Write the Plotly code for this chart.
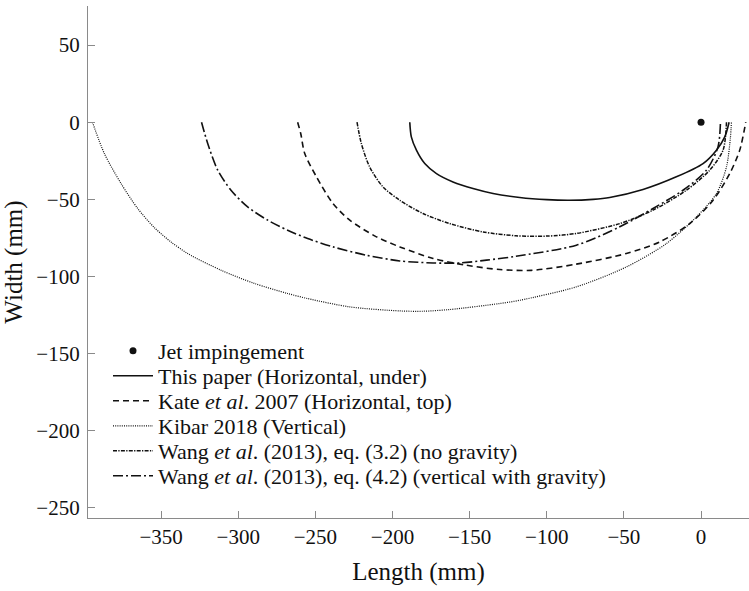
import plotly.graph_objects as go

# ---- data (mm) ----
jet_x = [0.0]
jet_y = [0.0]

paper_x = [-188.8, -187.8, -184.5, -179.1, -171.5, -160.8, -147.8, -134.8, -117.5, -100.0,
           -85.4, -70.0, -59.2, -37.6, -16.0, 1.3, 10.0, 15.4, 18.2]
paper_y = [0.0, -9.5, -18.1, -26.8, -33.3, -38.7, -43.0, -46.2, -48.8, -50.2,
           -50.6, -50.0, -48.8, -43.6, -35.4, -26.8, -18.1, -9.5, 0.0]

kate_x = [-261.5, -259.5, -256.9, -249.3, -238.6, -227.7, -210.4, -195.3, -173.7, -152.1,
          -130.5, -110.0, -80.8, -48.4, -26.8, -7.3, 7.8, 18.6, 25.1, 29.0]
kate_y = [0.0, -7.3, -20.3, -35.4, -52.7, -63.5, -74.3, -80.8, -88.3, -92.7,
          -95.5, -96.0, -92.0, -85.1, -77.6, -65.7, -50.6, -33.3, -18.1, 0.0]

kibar_x = [-394.5, -386.8, -376.0, -365.2, -354.4, -343.6, -332.8, -311.2, -289.5, -268.0,
           -255.0, -227.7, -195.3, -180.0, -162.9, -130.5, -117.5, -80.8, -48.4, -22.4,
           -3.0, 10.0, 16.5, 19.1, 19.7]
kibar_y = [0.0, -20.3, -39.7, -55.9, -68.3, -77.6, -85.1, -95.9, -104.5, -111.0,
           -114.3, -119.7, -122.3, -122.5, -121.4, -117.5, -115.4, -106.7, -93.8, -78.6,
           -61.4, -46.2, -29.0, -9.5, 0.0]

wang32_x = [-223.0, -220.2, -214.8, -206.2, -195.3, -180.2, -162.9, -141.3, -120.0, -100.0,
            -80.8, -52.7, -31.1, -9.5, 5.6, 14.3, 16.5]
wang32_y = [0.0, -13.8, -29.0, -41.9, -50.6, -59.2, -65.7, -71.1, -73.6, -73.8,
            -72.1, -65.7, -57.0, -44.1, -31.1, -18.1, 0.0]

wang42_x = [-323.8, -319.8, -313.3, -304.7, -293.9, -280.9, -268.0, -255.0, -238.6, -216.9,
            -195.3, -173.7, -156.2, -139.1, -120.0, -80.8, -52.7, -31.1, -11.7, 3.5,
            11.0, 12.6]
wang42_y = [0.0, -13.8, -31.1, -44.1, -54.9, -63.5, -70.0, -75.4, -80.8, -86.2,
            -89.9, -91.2, -91.2, -89.4, -86.9, -79.7, -67.8, -55.9, -44.1, -31.1,
            -16.0, 0.0]

names = [
    "Jet impingement",
    "This paper (Horizontal, under)",
    "Kate <i>et al</i>. 2007 (Horizontal, top)",
    "Kibar 2018 (Vertical)",
    "Wang <i>et al</i>. (2013), eq. (3.2) (no gravity)",
    "Wang <i>et al</i>. (2013), eq. (4.2) (vertical with gravity)",
]

x_ticks = [-350, -300, -250, -200, -150, -100, -50, 0]
y_ticks = [-250, -200, -150, -100, -50, 0, 50]

FONT = "Liberation Serif, Times New Roman, serif"
INK = "#111111"
AXC = "#8a8a8a"

W, H = 749, 591
ML, MR, MT, MB = 88, 0, 6, 73
PW, PH = W - ML - MR, H - MT - MB

fig = go.Figure()
fig.add_trace(go.Scatter(x=jet_x, y=jet_y, mode="markers", name=names[0],
                         marker=dict(color=INK, size=7), legend="legend"))
fig.add_trace(go.Scatter(x=paper_x, y=paper_y, mode="lines", name=names[1],
                         line=dict(color=INK, width=1.6, shape="spline", smoothing=0.8),
                         legend="legend2"))
fig.add_trace(go.Scatter(x=kate_x, y=kate_y, mode="lines", name=names[2],
                         line=dict(color=INK, width=1.6, dash="6px,4px", shape="spline", smoothing=0.8),
                         legend="legend3"))
fig.add_trace(go.Scatter(x=kibar_x, y=kibar_y, mode="lines", name=names[3],
                         line=dict(color=INK, width=1.2, dash="1px,1.2px", shape="spline", smoothing=0.8),
                         legend="legend4"))
fig.add_trace(go.Scatter(x=wang32_x, y=wang32_y, mode="lines", name=names[4],
                         line=dict(color=INK, width=1.5, dash="4px,1.3px,1.3px,1.3px", shape="spline", smoothing=0.8),
                         legend="legend5"))
fig.add_trace(go.Scatter(x=wang42_x, y=wang42_y, mode="lines", name=names[5],
                         line=dict(color=INK, width=1.6, dash="10px,3px,2px,3px", shape="spline", smoothing=0.8),
                         legend="legend6"))

# legend rows (pixel centres), slightly spread so the text boxes do not collide
row_gap = 25.0
row_mid = 413.5
row_px = [row_mid + (i - 2.5) * row_gap for i in range(6)]
leg_x = (108 - ML) / PW
legends = {}
for i, py in enumerate(row_px):
    key = "legend" if i == 0 else f"legend{i+1}"
    legends[key] = dict(
        x=leg_x, xanchor="left", y=(H - MB - py) / PH, yanchor="middle",
        bgcolor="rgba(0,0,0,0)", borderwidth=0,
        font=dict(family=FONT, size=22, color=INK),
        tracegroupgap=0, itemwidth=40,
    )

axis_common = dict(
    showline=True, linecolor=AXC, linewidth=1.3,
    ticks="inside", ticklen=7, tickwidth=1.2, tickcolor=AXC,
    showgrid=False, zeroline=False,
    tickfont=dict(family=FONT, size=21, color=INK),
    title_font=dict(family=FONT, size=25, color=INK),
)

fig.update_layout(
    width=W, height=H,
    margin=dict(l=ML, r=MR, t=MT, b=MB),
    paper_bgcolor="white", plot_bgcolor="white",
    showlegend=True,
    xaxis=dict(range=[-397.4, 31.1], tickvals=x_ticks, title_text="Length (mm)",
               title_standoff=14, **axis_common),
    yaxis=dict(range=[-256.5, 75.3], tickvals=y_ticks, title_text="Width (mm)",
               title_standoff=8, ticklabelstandoff=3, **axis_common),
    **legends,
)

fig.write_html("out.html")
